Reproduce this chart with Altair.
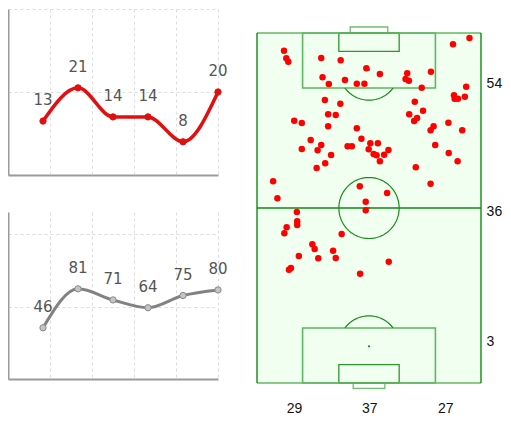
import altair as alt
import pandas as pd
import numpy as np

# ---------------- data ----------------
match_idx = [1, 2, 3, 4, 5, 6]
red_values = [13, 21, 14, 14, 8, 20]
gray_values = [46, 81, 71, 64, 75, 80]

# shot positions in pitch metres (x across 0-68, y along 0-105, attacking upwards)
shot_x = [8.2, 8.9, 9.5, 19.5, 25.4, 33.2, 37.3, 45.6, 52.8, 59.5, 64.5, 19.9, 21.8, 26.7,
          30.3, 32.6, 45.1, 46.1, 50.0, 63.5, 59.8, 60.0, 61.0, 63.1, 20.6, 25.3, 47.9, 50.4,
          21.6, 23.9, 46.2, 48.6, 47.7, 11.3, 13.6, 21.6, 58.1, 62.3, 53.6, 52.7, 30.3, 31.7,
          16.3, 19.5, 18.4, 13.6, 27.5, 28.8, 34.4, 36.7, 33.9, 35.4, 36.3, 38.6, 39.9, 37.3,
          54.1, 58.2, 60.9, 22.5, 20.7, 18.1, 48.2, 4.9, 52.7, 31.2, 39.5, 6.2, 33.0, 33.0,
          12.1, 12.2, 12.2, 9.0, 8.3, 25.7, 16.8, 17.5, 23.1, 12.7, 18.6, 23.9, 10.3, 9.7,
          40.0, 31.3]
shot_y = [99.7, 97.4, 96.4, 97.5, 96.8, 94.4, 92.7, 92.9, 93.4, 101.6, 103.5, 91.7, 89.7, 90.9,
          89.8, 89.8, 91.2, 90.7, 88.6, 88.9, 86.3, 85.3, 85.3, 85.9, 84.9, 83.8, 84.4, 81.7,
          80.6, 80.4, 80.6, 79.5, 78.6, 78.7, 78.0, 77.0, 78.1, 75.8, 77.0, 75.8, 76.4, 73.3,
          72.9, 71.4, 69.8, 70.2, 71.0, 71.0, 71.9, 71.9, 70.1, 68.7, 68.3, 68.5, 69.9, 66.5,
          71.4, 69.0, 66.5, 68.4, 65.9, 64.5, 64.7, 60.5, 59.8, 59.0, 57.0, 55.4, 54.4, 51.8,
          51.3, 48.5, 47.4, 46.7, 44.9, 44.7, 41.6, 40.2, 39.7, 38.1, 37.4, 37.5, 34.5, 34.0,
          36.4, 32.8]

row_counts = [54, 36, 3]
row_label_y = [89.7, 51.2, 12.2]
col_counts = [29, 37, 27]
col_label_x = [11.4, 34.2, 57.3]

# ---------------- small line charts ----------------
AX = dict(labels=False, ticks=False, title=None, grid=True, gridDash=[3, 3],
          gridColor="#dcdcdc", gridWidth=1, domainColor="#9a9a9a", domainWidth=2)


def line_panel(values, ydom, ygrid, height, color, width, pfill, pstroke):
    df = pd.DataFrame({"i": match_idx, "v": values})
    base = alt.Chart(df).encode(
        x=alt.X("i:Q", scale=alt.Scale(domain=[0, 6], nice=False, zero=False),
                axis=alt.Axis(values=[1.2, 2.4, 3.6, 4.8, 6.0], **AX)),
        y=alt.Y("v:Q", scale=alt.Scale(domain=ydom, nice=False),
                axis=alt.Axis(values=ygrid, **AX)),
    )
    line = base.mark_line(interpolate="monotone", color=color, strokeWidth=width)
    pts = base.mark_point(filled=True, size=40, fill=pfill, stroke=pstroke,
                          strokeWidth=1, opacity=1)
    txt = base.mark_text(dy=-21, fontSize=15, font="DejaVu Sans", color="#555555").encode(
        text="v:Q")
    return alt.layer(line, pts, txt).properties(width=210, height=height)


red = line_panel(red_values, [0, 40], [20, 40], 166, "#e01010", 3.5, "#e01010", "#e01010")
gray = line_panel(gray_values, [0, 150], [65, 130], 167, "#828282", 3, "#c4c4c4", "#8a8a8a")

# ---------------- pitch ----------------
XS = alt.Scale(domain=[0, 68], nice=False, zero=False)
YS = alt.Scale(domain=[0, 112.2], nice=False, zero=False)


def X(f="x"):
    return alt.X(f"{f}:Q", scale=XS, axis=None)


def Y(f="y"):
    return alt.Y(f"{f}:Q", scale=YS, axis=None)


bg = alt.Chart(pd.DataFrame({"x": [0], "x2": [68], "y": [0], "y2": [105]})).mark_rect(
    fill="#f0fff0").encode(x=X(), x2="x2:Q", y=Y(), y2="y2:Q")

pen_df = pd.DataFrame({"x": [13.84, 13.84], "x2": [54.16, 54.16],
                       "y": [0, 88.5], "y2": [16.5, 105]})
six_df = pd.DataFrame({"x": [24.84, 24.84], "x2": [43.16, 43.16],
                       "y": [0, 99.5], "y2": [5.5, 105]})
goal_df = pd.DataFrame({"x": [29.2, 28.3], "x2": [38.8, 39.7],
                        "y": [-1.6, 105], "y2": [0, 106.8]})


def boxes(df, color, w):
    return alt.Chart(df).mark_rect(fillOpacity=0, stroke=color, strokeWidth=w).encode(
        x=X(), x2="x2:Q", y=Y(), y2="y2:Q")


pen = boxes(pen_df, "#5cb85c", 1.6)
six = boxes(six_df, "#2e962e", 1.3)
goals = boxes(goal_df, "#6cc06c", 1.3)

side_df = pd.DataFrame({"x": [0, 68, 0], "x2": [0, 68, 68], "y": [0, 0, 52.5], "y2": [105, 105, 52.5]})
sides = alt.Chart(side_df).mark_rule(color="#108a10", strokeWidth=1.4).encode(
    x=X(), x2="x2:Q", y=Y(), y2="y2:Q")
end_df = pd.DataFrame({"x": [0, 0], "x2": [68, 68], "y": [0, 105], "y2": [0, 105]})
ends = alt.Chart(end_df).mark_rule(color="#62b862", strokeWidth=1.6).encode(
    x=X(), x2="x2:Q", y=Y(), y2="y2:Q")

# circle and penalty arcs (pitch geometry)
t = np.linspace(0, 2 * np.pi, 121)
ta = np.linspace(np.arcsin(5.5 / 9.15), np.pi - np.arcsin(5.5 / 9.15), 40)
arc_df = pd.concat([
    pd.DataFrame({"x": 34 + 9.15 * np.cos(t), "y": 52.5 + 9.15 * np.sin(t), "k": np.arange(len(t)), "g": "c"}),
    pd.DataFrame({"x": 34 + 9.15 * np.cos(ta), "y": 11 + 9.15 * np.sin(ta), "k": np.arange(len(ta)), "g": "b"}),
    pd.DataFrame({"x": 34 + 9.15 * np.cos(ta), "y": 94 - 9.15 * np.sin(ta), "k": np.arange(len(ta)), "g": "t"}),
])
arcs = alt.Chart(arc_df).mark_line(color="#1a8c1a", strokeWidth=1.2).encode(
    x=X(), y=Y(), order="k:Q", detail="g:N")

spots = alt.Chart(pd.DataFrame({"x": [34, 34, 34], "y": [11, 94, 52.5]})).mark_circle(
    color="#1a8c1a", size=5, opacity=1).encode(x=X(), y=Y())

shots = alt.Chart(pd.DataFrame({"x": shot_x, "y": shot_y})).mark_circle(
    color="#ff0000", size=42, opacity=1).encode(x=X(), y=Y())

rows = alt.Chart(pd.DataFrame({"x": [69.7] * 3, "y": row_label_y, "t": row_counts})).mark_text(
    align="left", baseline="middle", fontSize=14, font="Liberation Sans", color="#111111").encode(
    x=X(), y=Y(), text="t:N")
cols = alt.Chart(pd.DataFrame({"x": col_label_x, "y": [-7.65] * 3, "t": col_counts})).mark_text(
    align="center", baseline="middle", fontSize=14, font="Liberation Sans", color="#111111").encode(
    x=X(), y=Y(), text="t:N")

pitch = alt.layer(bg, goals, pen, six, ends, sides, arcs, spots, shots, rows, cols).properties(
    width=224, height=374)

left = alt.vconcat(red, gray, spacing=37, bounds="flush")
chart = alt.hconcat(left, pitch, spacing=28).properties(
    padding={"left": 0, "top": 1, "right": 0, "bottom": 0}
).configure_view(stroke=None)

chart.save("out.html", embed_options={"renderer": "svg", "actions": False})
